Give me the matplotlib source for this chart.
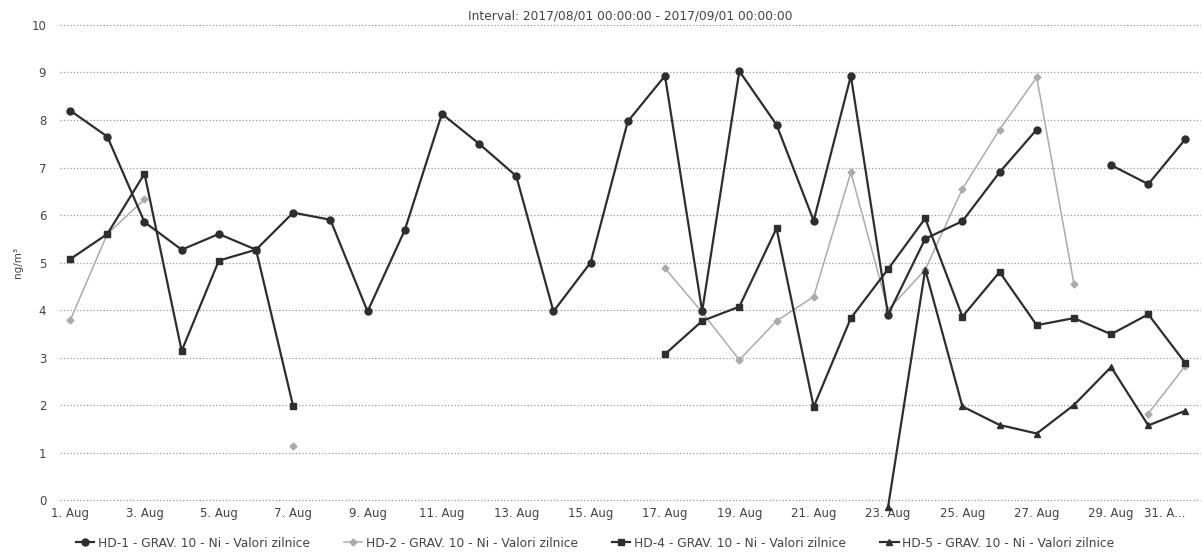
import numpy as np
import matplotlib.pyplot as plt

nan = np.nan

# days of August 2017
days = list(range(1, 32))

hd1 = [8.2, 7.65, 5.85, 5.27, 5.6, 5.27, 6.05, 5.9, 3.97, 5.68,
       8.13, 7.5, 6.82, 3.97, 5.0, 7.97, 8.93, 3.97, 9.03, 7.9,
       5.88, 8.93, 3.9, 5.5, 5.87, 6.9, 7.8, nan, 7.05, 6.65, 7.6]

hd2 = [3.78, 5.6, 6.33, nan, nan, nan, 1.13, nan, nan, nan,
       nan, nan, nan, nan, nan, nan, 4.88, 3.95, 2.95, 3.77,
       4.28, 6.9, 4.0, 4.85, 6.55, 7.8, 8.9, 4.55, nan, 1.82, 2.83]

hd4 = [5.07, 5.6, 6.87, 3.14, 5.04, 5.27, 1.97, nan, nan, nan,
       nan, nan, nan, nan, nan, nan, 3.07, 3.77, 4.07, 5.72,
       1.96, 3.83, 4.86, 5.93, 3.86, 4.8, 3.68, 3.83, 3.49, 3.91, 2.88]

hd5 = [nan]*22 + [-0.15, 4.85, 1.97, 1.58, 1.4, 2.0, 2.8, 1.57, 1.88]

labels = ['HD-1 - GRAV. 10 - Ni - Valori zilnice',
          'HD-2 - GRAV. 10 - Ni - Valori zilnice',
          'HD-4 - GRAV. 10 - Ni - Valori zilnice',
          'HD-5 - GRAV. 10 - Ni - Valori zilnice']

tick_days = list(range(1, 32, 2))
tick_labels = [str(d) + '. Aug' for d in tick_days[:-1]] + ['31. A...']

dark = '#2e2e2e'
light = '#ababab'
txt = '#444444'

fig = plt.figure(figsize=(12.02, 5.53), dpi=100)
ax = fig.add_axes([0.05, 0.0958, 0.948, 0.859])

ax.plot(days, hd1, color=dark, lw=1.6, marker='o', ms=5, label=labels[0], clip_on=False, zorder=3)
ax.plot(days, hd2, color=light, lw=1.1, marker='D', ms=3.5, label=labels[1], clip_on=False, zorder=2)
ax.plot(days, hd4, color=dark, lw=1.6, marker='s', ms=4.5, label=labels[2], clip_on=False, zorder=3)
ax.plot(days, hd5, color=dark, lw=1.6, marker='^', ms=4.5, label=labels[3], clip_on=False, zorder=3)

ax.set_xlim(0.73, 31.38)
ax.set_ylim(0, 10)
ax.set_yticks(range(0, 11))
ax.set_xticks(tick_days)
ax.set_xticklabels(tick_labels)
ax.get_xticklabels()[-1].set_horizontalalignment('right')
ax.tick_params(length=0, labelsize=8.5, colors=txt)
ax.tick_params(axis='y', pad=10)
ax.tick_params(axis='x', pad=5)
ax.grid(axis='y', color='#999999', ls=':', lw=0.9, clip_on=False)
for s in ax.spines.values():
    s.set_visible(False)

ax.set_ylabel('ng/m³', fontsize=7.5, color=txt, labelpad=6)
ax.set_title('Interval: 2017/08/01 00:00:00 - 2017/09/01 00:00:00', fontsize=8.8, color=txt, pad=4)

fig.legend(loc='center', bbox_to_anchor=(0.495, 0.018), ncol=4, frameon=False,
           fontsize=8.8, handlelength=1.5, handletextpad=0.3, columnspacing=2.8, labelcolor=txt)

fig.savefig('out.png', dpi=100)
